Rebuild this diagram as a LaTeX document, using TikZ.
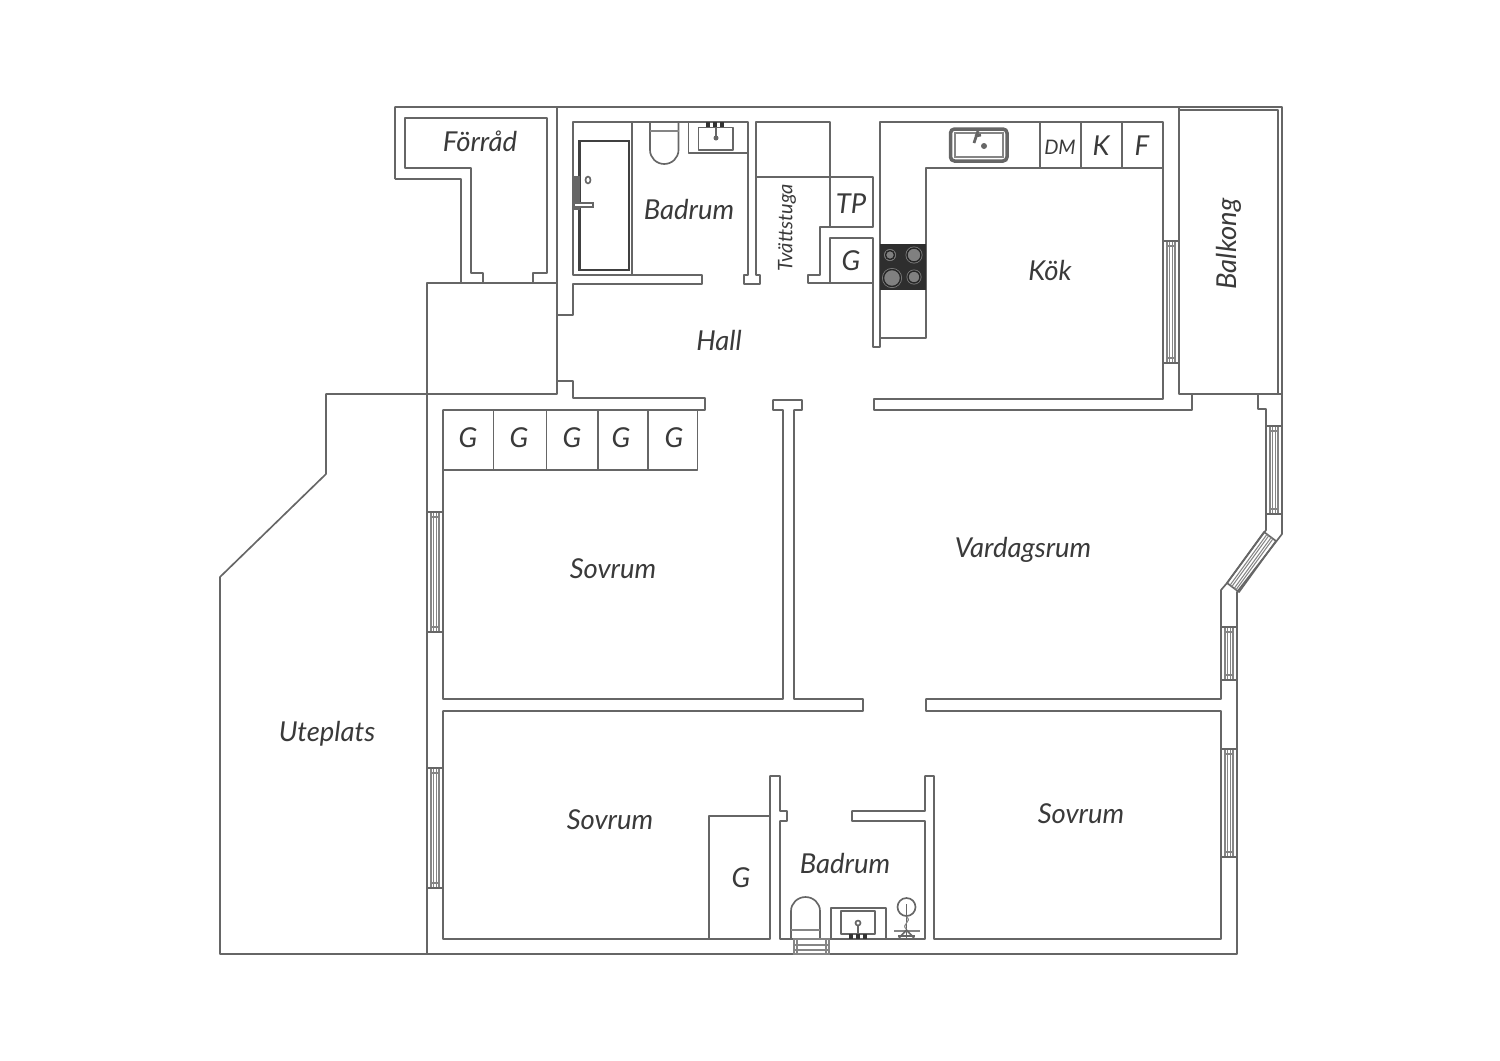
\documentclass[tikz,border=0pt]{standalone}
\usepackage{fontspec}
\setmainfont{Lato}
\usetikzlibrary{calc}
\definecolor{wallgrey}{HTML}{666666}
\definecolor{textgrey}{HTML}{3A3A3A}
\tikzset{
  wall/.style={draw=wallgrey, line width=0.47pt, line join=round},
  thinline/.style={draw=wallgrey!80, line width=0.3pt},
  roomlabel/.style={text=textgrey, font=\fontsize{7.8}{9}\selectfont\itshape, inner sep=0pt},
  smalllabel/.style={text=textgrey, font=\fontsize{5.7}{7}\selectfont\itshape, inner sep=0pt}
}
\begin{document}
\begin{tikzpicture}[x=0.01cm,y=-0.01cm]
  \useasboundingbox[fill=white] (0,0) rectangle (1500,1060);

  % outer shell
  \draw[wall] (395,179) -- (395,107) -- (1282,107) -- (1282,534) -- (1237,592) -- (1237,954) -- (220,954) -- (220,577) -- (326,474) -- (326,394) -- (427,394);
  \draw[wall] (395,179) -- (461,179) -- (461,283);
  \draw[wall] (427,954) -- (427,283) -- (557,283);
  \draw[wall] (557,107) -- (557,394) -- (427,394);

  % storage
  \draw[wall] (483,283) -- (483,273) -- (471,273) -- (471,168) -- (405,168) -- (405,118) -- (547,118) -- (547,273) -- (533,273) -- (533,283);

  % bathroom and hall top
  \draw[wall] (557,315) -- (573,315) -- (573,284) -- (702,284) -- (702,275) -- (573,275) -- (573,122) -- (748,122) -- (748,275) -- (744,275) -- (744,284) -- (760,284) -- (760,275) -- (756,275) -- (756,122) -- (830,122) -- (830,227);
  \draw[wall] (756,177) -- (873,177) -- (873,227) -- (820,227) -- (820,275) -- (808,275) -- (808,283) -- (873,283);
  \draw[wall] (830,283) -- (830,238) -- (873,238) -- (873,347) -- (880,347) -- (880,122) -- (1163,122) -- (1163,399) -- (874,399) -- (874,410) -- (1192,410) -- (1192,394);
  \draw[wall] (880,338) -- (926,338) -- (926,168) -- (1163,168);
  \foreach \xdiv in {1040,1081,1122}
    \draw[wall] (\xdiv,122) -- (\xdiv,168);

  % balcony
  \draw[wall] (1179,107) -- (1179,394) -- (1282,394);
  \draw[wall] (1179,110) -- (1278,110) -- (1278,394);
  \draw[wall] (1258,394) -- (1258,409) -- (1266,409) -- (1266,530) -- (1227,583) -- (1221,590) -- (1221,699) -- (926,699) -- (926,711) -- (1221,711) -- (1221,939) -- (934,939) -- (934,776) -- (925,776) -- (925,811) -- (852,811) -- (852,821) -- (925,821) -- (925,939) -- (780,939) -- (780,821) -- (787,821) -- (787,811) -- (780,811) -- (780,776) -- (770,776) -- (770,939) -- (443,939) -- (443,711) -- (863,711) -- (863,699) -- (794,699) -- (794,410) -- (802,410) -- (802,400) -- (773,400) -- (773,410) -- (783,410) -- (783,699) -- (443,699) -- (443,410) -- (705,410) -- (705,398) -- (573,398) -- (573,381) -- (557,381);

  % closets
  \foreach \xdiv in {493.5,546.5,598,648}
    \draw[wall] (\xdiv,410) -- (\xdiv,470);
  \draw[wall] (443,470) -- (697.5,470) -- (697.5,410);
  \draw[wall] (709,939) -- (709,816) -- (770,816);

  % windows in straight walls
  \foreach \xa/\ya/\yb in {427/512/632, 427/768/888, 1163/241/363, 1266/426/514, 1221/627/680, 1221/749/857} {
    \draw[wall] (\xa,\ya) -- ++(16,0);
    \draw[wall] (\xa,\yb) -- ++(16,0);
    \foreach \off in {4,6.5,9.5,12}
      \draw[thinline] (\xa+\off,\ya+1) -- (\xa+\off,\yb-1);
    \draw[thinline] (\xa+4,\ya+5) -- ++(8,0);
    \draw[thinline] (\xa+4,\yb-5) -- ++(8,0);
  }
  % bay window
  \draw[wall] (1264,532) -- (1276,541) -- (1239,592) -- (1227,583) -- cycle;
  \foreach \off in {0.25,0.4,0.6,0.75}
    \draw[thinline] ($(1264,532)!\off!(1276,541)$) -- ($(1227,583)!\off!(1239,592)$);

  % shower door
  \draw[wall] (632,122) -- (632,275);
  \draw[draw=black!75, line width=0.8pt] (579.5,141) rectangle (629,270);
  \draw[fill=wallgrey, draw=wallgrey, line width=0.2pt] (573,176) rectangle (579,209);
  \draw[draw=wallgrey, fill=white, line width=0.3pt] (574,203) rectangle (593,207);
  \draw[wall] (588,180) ellipse (2.5 and 3.5);

  % upper wc and basin
  \draw[wall] (650,122) -- (650,150) arc[start angle=180, end angle=360, x radius=14.25, y radius=-14] -- (678.5,122);
  \draw[thinline] (650,131) -- (678.5,131);
  \draw[wall] (688.5,122) -- (688.5,153) -- (748,153);
  \draw[wall] (698.5,127.5) rectangle (733,150);
  \foreach \xtap in {708,715,722}
    \fill[black!80] (\xtap-2,122) rectangle (\xtap+2,127);
  \draw[wall] (716,127) -- (716,137);
  \fill[wallgrey] (716,138) circle (2.5);

  % sink
  \draw[draw=wallgrey, line width=1pt, rounded corners=0.4mm] (950.5,129) rectangle (1007,161);
  \draw[thinline] (955,133) rectangle (1003,157);
  \fill[wallgrey] (984,146) circle (3);
  \draw[wallgrey, line width=0.8pt] (978,131) -- (974,143);
  \draw[wallgrey, line width=0.8pt] (975,136) -- (981,135);

  % stove
  \fill[black!82] (880,244) rectangle (926,290);
  \foreach \cx/\cy/\rr in {890/255/6, 914/255/8.5, 892/278/10, 914/277/7.5} {
    \fill[black!50] (\cx,\cy) circle (\rr);
    \draw[black!85, line width=0.4pt] (\cx,\cy) circle (\rr-1.5);
  }

  % lower wc
  \draw[wall] (791,939) -- (791,911) arc[start angle=180, end angle=0, x radius=14.5, y radius=-14] -- (820,939);
  \draw[thinline] (791,930) -- (820,930);
  \draw[thinline] (794,939) rectangle (829,954);
  \draw[thinline] (797,939) -- (797,954);
  \draw[thinline] (826,939) -- (826,954);
  \draw[thinline] (794,945) -- (829,945);
  \draw[thinline] (794,950) -- (829,950);

  % lower basin
  \draw[wall] (831,939) -- (831,908) -- (886,908) -- (886,939);
  \draw[wall] (841,911) rectangle (875,934);
  \draw[wall] (858,934) -- (858,925);
  \draw[wall] (858,923) circle (2.5);
  \foreach \xtap in {851,858,865}
    \fill[black!80] (\xtap-2,934) rectangle (\xtap+2,939);

  % shower
  \draw[wall] (906.5,907) circle (9);
  \draw[wall] (906.5,904) -- (906.5,938);
  \draw[thinline] (906.5,917) .. controls (913,921) and (900,925) .. (906.5,929);
  \draw[thinline] (894,931) -- (920,931);
  \draw[wall] (898,936) -- (915,936);
  \draw[wall] (899,938) -- (906.5,930) -- (914,938);

  % labels
  \node[roomlabel] (forrad) at (480,141) {Förråd};
  \node[roomlabel] (badrumtop) at (689,209) {Badrum};
  \node[roomlabel] (hall) at (719,340) {Hall};
  \node[smalllabel, rotate=90] (tvatt) at (787,228) {Tvättstuga};
  \node[roomlabel] (tp) at (851,204) {TP};
  \node[roomlabel] (gtvatt) at (851,261) {G};
  \node[roomlabel] (kok) at (1050,270) {Kök};
  \node[smalllabel] (dm) at (1060,147) {DM};
  \node[roomlabel] (kyl) at (1101,146) {K};
  \node[roomlabel] (frys) at (1142,146) {F};
  \node[roomlabel, rotate=90] (balkong) at (1229,244) {Balkong};
  \foreach \xg/\gname in {468/ga,519/gb,572/gc,621/gd,674/ge}
    \node[roomlabel] (\gname) at (\xg,438) {G};
  \node[roomlabel] (sovrumleft) at (613,569) {Sovrum};
  \node[roomlabel] (vardagsrum) at (1023,550) {Vardagsrum};
  \node[roomlabel] (uteplats) at (327,734) {Uteplats};
  \node[roomlabel] (sovrumlow) at (610,820) {Sovrum};
  \node[roomlabel] (sovrumright) at (1081,814) {Sovrum};
  \node[roomlabel] (badrumlow) at (845,863) {Badrum};
  \node[roomlabel] (gsovrum) at (741,878) {G};
\end{tikzpicture}
\end{document}
